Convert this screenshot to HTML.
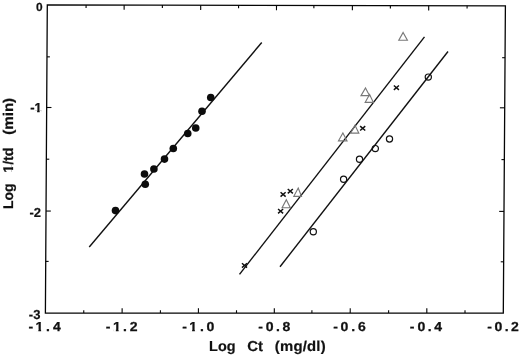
<!DOCTYPE html>
<html lang="en"><head><meta charset="utf-8"><title>Log 1/td vs Log Ct</title>
<style>html,body{margin:0;padding:0;background:#fff;}body{width:520px;height:356px;overflow:hidden;}svg{display:block;}text{font-family:"Liberation Sans",sans-serif;font-weight:bold;fill:#111;text-rendering:geometricPrecision;}</style></head><body>
<svg width="520" height="356" viewBox="0 0 520 356">
<rect width="520" height="356" fill="#fff"/>
<polygon points="47.3,4.9 505.4,5.8 503.3,313.1 45.4,313.1" fill="none" stroke="#050505" stroke-width="1.3" stroke-linejoin="miter"/>
<g stroke="#050505" stroke-width="1.1" fill="none">
<line x1="83.75" y1="313.10" x2="83.77" y2="310.20"/>
<line x1="86.10" y1="4.98" x2="86.08" y2="7.88"/>
<line x1="122.10" y1="313.10" x2="122.13" y2="308.30"/>
<line x1="124.15" y1="5.05" x2="124.12" y2="9.85"/>
<line x1="160.40" y1="313.10" x2="160.42" y2="310.20"/>
<line x1="162.40" y1="5.12" x2="162.38" y2="8.03"/>
<line x1="198.40" y1="313.10" x2="198.43" y2="308.30"/>
<line x1="200.70" y1="5.20" x2="200.67" y2="10.00"/>
<line x1="236.50" y1="313.10" x2="236.52" y2="310.20"/>
<line x1="238.60" y1="5.28" x2="238.58" y2="8.18"/>
<line x1="274.30" y1="313.10" x2="274.33" y2="308.30"/>
<line x1="276.50" y1="5.35" x2="276.47" y2="10.15"/>
<line x1="311.90" y1="313.10" x2="311.92" y2="310.20"/>
<line x1="313.90" y1="5.42" x2="313.88" y2="8.32"/>
<line x1="350.20" y1="313.10" x2="350.23" y2="308.30"/>
<line x1="352.40" y1="5.50" x2="352.37" y2="10.30"/>
<line x1="388.60" y1="313.10" x2="388.62" y2="310.20"/>
<line x1="390.40" y1="5.58" x2="390.38" y2="8.47"/>
<line x1="426.80" y1="313.10" x2="426.83" y2="308.30"/>
<line x1="428.70" y1="5.65" x2="428.67" y2="10.45"/>
<line x1="465.00" y1="313.10" x2="465.02" y2="310.20"/>
<line x1="467.10" y1="5.72" x2="467.08" y2="8.62"/>
<line x1="46.98" y1="56.85" x2="49.88" y2="56.85"/>
<line x1="505.05" y1="57.70" x2="502.15" y2="57.70"/>
<line x1="46.67" y1="107.50" x2="51.47" y2="107.50"/>
<line x1="504.70" y1="107.80" x2="499.90" y2="107.80"/>
<line x1="46.35" y1="159.20" x2="49.25" y2="159.20"/>
<line x1="504.35" y1="159.60" x2="501.45" y2="159.60"/>
<line x1="46.03" y1="211.05" x2="50.83" y2="211.05"/>
<line x1="503.99" y1="211.40" x2="499.19" y2="211.40"/>
<line x1="45.72" y1="261.40" x2="48.62" y2="261.40"/>
<line x1="503.65" y1="261.80" x2="500.75" y2="261.80"/>
</g>
<g stroke="#111" stroke-width="1.4" stroke-linecap="butt">
<line x1="89.25" y1="247" x2="261.75" y2="42.5"/>
<line x1="239.5" y1="274.4" x2="424.5" y2="36.9"/>
<line x1="280" y1="266.75" x2="448" y2="51.5"/>
</g>
<g fill="#0c0c0c">
<circle cx="210.75" cy="97.5" r="3.8"/>
<circle cx="202" cy="111.25" r="3.8"/>
<circle cx="195.75" cy="128" r="3.8"/>
<circle cx="187.75" cy="133.5" r="3.8"/>
<circle cx="173.3" cy="148.5" r="3.8"/>
<circle cx="164.5" cy="159.1" r="3.8"/>
<circle cx="153.9" cy="169.0" r="3.8"/>
<circle cx="144.5" cy="174" r="3.8"/>
<circle cx="145.25" cy="184.25" r="3.8"/>
<circle cx="115.5" cy="210.6" r="3.8"/>
</g>
<g fill="none" stroke="#111" stroke-width="1.2">
<circle cx="428.3" cy="77.1" r="3.1"/>
<circle cx="389.5" cy="139.0" r="3.1"/>
<circle cx="375.3" cy="148.6" r="3.1"/>
<circle cx="359.5" cy="159.2" r="3.1"/>
<circle cx="343.6" cy="179.3" r="3.1"/>
<circle cx="313.3" cy="231.8" r="3.1"/>
</g>
<g fill="none" stroke="#787878" stroke-width="1.15" stroke-linejoin="miter">
<polygon points="403.1,32.5 407.4,40.2 398.8,40.2"/>
<polygon points="365.5,88 369.5,95.6 361,95.6"/>
<polygon points="369.6,94.5 373.3,102.3 365.2,102.3"/>
<polygon points="355,125.3 358.8,133.1 350.6,133.1"/>
<polygon points="342.9,133 347,140.8 338.5,140.8"/>
<polygon points="298.2,188 301.5,196.3 293.8,196.3"/>
<polygon points="286.3,199.7 290.3,207.7 282.1,207.7"/>
</g>
<g stroke="#111" stroke-width="1.45">
<path d="M393.85,85.50L398.95,89.90M393.85,89.90L398.95,85.50"/>
<path d="M360.15,126.10L365.25,130.50M360.15,130.50L365.25,126.10"/>
<path d="M287.75,189.00L292.85,193.40M287.75,193.40L292.85,189.00"/>
<path d="M280.55,192.20L285.65,196.60M280.55,196.60L285.65,192.20"/>
<path d="M278.05,209.00L283.15,213.40M278.05,213.40L283.15,209.00"/>
<path d="M241.95,263.20L247.05,267.60M241.95,267.60L247.05,263.20"/>
</g>
<g transform="translate(42.55,10.50) scale(1.02,1)"><text font-size="11.7" text-anchor="end" stroke="#111" stroke-width="0.2">0</text></g>
<g transform="translate(41.70,112.10) scale(1.0,1)"><text font-size="13" text-anchor="end" stroke="#111" stroke-width="0.25">-1</text><rect x="-6.97" y="-1.70" width="2.39" height="2.98" fill="#fff"/><rect x="-2.04" y="-1.70" width="2.23" height="2.98" fill="#fff"/></g>
<g transform="translate(41.10,216.50) scale(1.0,1)"><text font-size="13" text-anchor="end" stroke="#111" stroke-width="0.2">-2</text></g>
<g transform="translate(40.40,318.70) scale(1.0,1)"><text font-size="13" text-anchor="end" stroke="#111" stroke-width="0.2">-3</text></g>
<g transform="translate(28.60,330.60) scale(1.08,1)"><text font-size="13.0" x="0.00 6.39 16.20 22.50" stroke="#111" stroke-width="0.25">-1.4</text><rect x="6.65" y="-1.70" width="2.39" height="2.98" fill="#fff"/><rect x="11.57" y="-1.70" width="2.23" height="2.98" fill="#fff"/></g>
<g transform="translate(105.65,330.60) scale(1.08,1)"><text font-size="13.0" x="0.00 6.81 16.06 22.36" stroke="#111" stroke-width="0.25">-1.2</text><rect x="7.07" y="-1.70" width="2.39" height="2.98" fill="#fff"/><rect x="11.99" y="-1.70" width="2.23" height="2.98" fill="#fff"/></g>
<g transform="translate(182.30,330.60) scale(1.08,1)"><text font-size="13.0" x="0.00 6.44 16.30 22.31" stroke="#111" stroke-width="0.25">-1.0</text><rect x="6.70" y="-1.70" width="2.39" height="2.98" fill="#fff"/><rect x="11.62" y="-1.70" width="2.23" height="2.98" fill="#fff"/></g>
<g transform="translate(258.25,330.60) scale(1.08,1)"><text font-size="13.0" x="0.00 6.94 16.34 22.41" stroke="#111" stroke-width="0.25">-0.8</text></g>
<g transform="translate(333.20,330.60) scale(1.08,1)"><text font-size="13.0" x="0.00 6.81 16.67 22.87" stroke="#111" stroke-width="0.25">-0.6</text></g>
<g transform="translate(409.70,330.60) scale(1.08,1)"><text font-size="13.0" x="0.00 7.27 16.67 22.69" stroke="#111" stroke-width="0.25">-0.4</text></g>
<g transform="translate(487.15,330.60) scale(1.08,1)"><text font-size="13.0" x="0.00 6.90 16.34 22.13" stroke="#111" stroke-width="0.25">-0.2</text></g>
<g transform="translate(209.10,351.00) scale(1.0,1)"><text font-size="14.4" stroke="#111" stroke-width="0.2">Log</text></g>
<g transform="translate(247.20,351.00) scale(1.04,1)"><text font-size="14.4" stroke="#111" stroke-width="0.2">Ct</text></g>
<g transform="translate(274.80,351.00) scale(1.04,1)"><text font-size="14.3" letter-spacing="0.2" stroke="#111" stroke-width="0.2">(mg/dl)</text></g>
<g transform="translate(13.20,209.10) rotate(-90) scale(1.0,1)"><text font-size="14" stroke="#111" stroke-width="0.25">Log</text></g>
<g transform="translate(13.20,172.80) rotate(-90) scale(1.02,1)"><text font-size="14" stroke="#111" stroke-width="0.25">1/td</text><rect x="0.28" y="-1.80" width="2.61" height="3.08" fill="#fff"/><rect x="5.55" y="-1.80" width="2.43" height="3.08" fill="#fff"/></g>
<g transform="translate(13.20,134.80) rotate(-90) scale(1.08,1)"><text font-size="14" stroke="#111" stroke-width="0.25">(min)</text></g>
</svg></body></html>
